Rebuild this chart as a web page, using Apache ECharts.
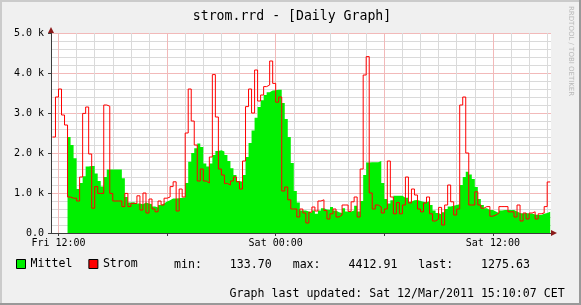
<!DOCTYPE html>
<html><head><meta charset="utf-8">
<script src="https://cdn.jsdelivr.net/npm/echarts@6/dist/echarts.min.js"></script>
<style>html,body{margin:0;padding:0;background:#f0f0f0}#c{width:581px;height:305px}</style>
</head><body><div id="c"></div>
<script>
// Samples every 10 minutes starting Fri 11:40 (hours since Fri 00:00)
const START_HOUR = 11 + 40 / 60;
const STEP_HOURS = 10 / 60;

const strom = [
2400,3400,3600,2950,2700,900,870,870,800,1400,
2990,3150,1975,620,1160,990,990,3200,3170,990,
800,800,800,660,990,660,740,740,930,575,
1000,500,850,600,530,800,700,870,900,1160,
1280,550,1100,900,2500,3600,2800,2200,1300,1600,
1300,1250,1900,3960,2900,1600,1450,1240,1200,1300,
1400,1280,1100,1800,3160,3600,3000,4075,3300,3450,
3660,3700,4300,3740,3270,3400,1050,1150,830,600,
600,400,600,500,250,520,650,550,800,830,
560,350,480,600,400,450,700,700,540,780,
900,400,1600,3950,4410,1000,600,700,650,500,
600,1800,900,480,760,480,700,1400,750,1100,
950,600,530,750,900,480,300,350,640,200,
700,1200,780,450,600,3200,3400,2000,700,700,
1030,700,620,660,660,420,450,500,660,660,
660,530,530,400,700,300,500,350,500,530,
350,480,500,660,1276,1276
];

const mittel = [
null,null,null,null,null,2400,2200,1870,1100,1250,
1420,1660,1675,1675,1490,1300,1160,1400,1590,1590,
1590,1590,1590,1370,900,760,770,740,740,720,
760,740,720,660,640,700,740,790,820,860,
860,870,880,890,1250,1780,2000,2120,2240,2150,
1740,1660,1740,1950,2050,2070,2040,1950,1800,1620,
1450,1300,1280,1450,1900,2250,2560,2880,3150,3320,
3450,3520,3560,3570,3580,3580,3250,2850,2400,1750,
1050,760,560,560,540,500,560,480,560,620,
590,580,650,560,520,500,620,540,540,560,
680,540,800,1450,1760,1770,1770,1770,1800,1250,
850,740,820,930,930,930,880,880,780,820,
825,800,780,760,800,700,560,500,460,520,
600,660,680,700,720,1200,1400,1530,1460,1350,
1150,850,700,620,575,575,540,500,560,575,
575,575,575,540,500,490,500,490,490,460,
450,450,480,500,530,530
];

const xLabelHours = [12, 24, 36];
const xLabelTexts = ['Fri 12:00', 'Sat 00:00', 'Sat 12:00'];
const majorHours = [12, 18, 24, 30, 36];
const minorHours = [13,14,15,16,17,19,20,21,22,23,25,26,27,28,29,31,32,33,34,35,37,38,39];
const yTickLabels = ['0.0', '1.0 k', '2.0 k', '3.0 k', '4.0 k', '5.0 k'];
const seriesNames = ['Mittel', 'Strom'];
const statMin = '133.70', statMax = '4412.91', statLast = '1275.63';
const titleText = 'strom.rrd - [Daily Graph]';
const updatedText = 'Graph last updated: Sat 12/Mar/2011 15:10:07 CET';

const MONO = "'DejaVu Sans Mono', monospace";
const X_MIN = 11.586, X_MAX = 39.21;

const stromData = strom.map((v, i) => [START_HOUR + i * STEP_HOURS, v]);
const mittelData = mittel.map((v, i) => [START_HOUR + i * STEP_HOURS, v == null ? '-' : v]);

const chart = echarts.init(document.getElementById('c'), null, {renderer: 'canvas'});
chart.setOption({
  animation: false,
  backgroundColor: '#f0f0f0',
  grid: {left: 51, right: 30, top: 33, bottom: 72, show: true, backgroundColor: '#ffffff', borderWidth: 0, containLabel: false},
  legend: {
    data: seriesNames, left: 16, top: 258, padding: 0, itemGap: 16, itemWidth: 9, itemHeight: 9,
    icon: 'rect', itemStyle: {borderColor: '#000', borderWidth: 1},
    textStyle: {fontFamily: MONO, fontSize: 11.6, color: '#000', padding: [0,0,0,0]}
  },
  xAxis: [{
    type: 'value', min: X_MIN, max: X_MAX,
    axisLine: {show: true, lineStyle: {color: '#3c3c3c', width: 1}},
    axisTick: {show: false, customValues: minorHours},
    axisLabel: {customValues: xLabelHours, fontFamily: MONO, fontSize: 10, color: '#000', margin: 5,
      formatter: v => xLabelTexts[xLabelHours.indexOf(Math.round(v))] || ''},
    splitLine: {show: true, lineStyle: {color: '#dadada', width: 1}}
  }, {
    type: 'value', min: X_MIN, max: X_MAX, position: 'bottom',
    axisLine: {show: false},
    axisTick: {show: true, customValues: majorHours, length: 3, lineStyle: {color: '#3c3c3c'}},
    axisLabel: {show: false},
    splitLine: {show: true, lineStyle: {color: '#f2b9b9', width: 1}}
  }],
  yAxis: {
    type: 'value', min: 0, max: 5000, interval: 1000,
    axisLine: {show: true, lineStyle: {color: '#3c3c3c', width: 1}},
    axisTick: {show: true, length: 3, lineStyle: {color: '#3c3c3c'}},
    minorTick: {show: false, splitNumber: 5},
    minorSplitLine: {show: true, lineStyle: {color: '#dadada', width: 1}},
    splitLine: {show: true, lineStyle: {color: '#f2b9b9', width: 1}},
    axisLabel: {fontFamily: MONO, fontSize: 10, color: '#000', margin: 7,
      formatter: v => yTickLabels[Math.round(v / 1000)]}
  },
  series: [{
    name: seriesNames[0], type: 'line', step: 'end', data: mittelData, xAxisIndex: 0,
    showSymbol: false, symbol: 'none', itemStyle: {color: '#00f000'},
    lineStyle: {width: 0, color: '#00f000'}, areaStyle: {color: '#00f000', opacity: 1}, z: 3
  }, {
    name: seriesNames[1], type: 'line', step: 'end', data: stromData, xAxisIndex: 0,
    showSymbol: false, symbol: 'none', itemStyle: {color: '#ff0000'},
    lineStyle: {width: 1, color: '#ff0000'}, z: 4
  }],
  graphic: [
    {type: 'rect', shape: {x: 0, y: 0, width: 581, height: 2}, style: {fill: '#cbcbcb'}, silent: true},
    {type: 'rect', shape: {x: 0, y: 0, width: 2, height: 305}, style: {fill: '#cbcbcb'}, silent: true},
    {type: 'rect', shape: {x: 0, y: 303, width: 581, height: 2}, style: {fill: '#999999'}, silent: true},
    {type: 'rect', shape: {x: 579, y: 0, width: 2, height: 305}, style: {fill: '#999999'}, silent: true},
    {type: 'text', x: 292, y: 17, style: {text: titleText, font: "13.2px 'DejaVu Sans Mono'", fill: '#000', textAlign: 'center', textVerticalAlign: 'middle'}},
    {type: 'text', x: 174, y: 264.5, style: {text: 'min:    ' + statMin + '   max:    ' + statMax + '   last:    ' + statLast, font: "11.6px 'DejaVu Sans Mono'", fill: '#000', textAlign: 'left', textVerticalAlign: 'middle'}},
    {type: 'text', x: 229.6, y: 293.5, style: {text: updatedText, font: "11.6px 'DejaVu Sans Mono'", fill: '#000', textAlign: 'left', textVerticalAlign: 'middle'}},
    {type: 'text', x: 571, y: 6, rotation: -Math.PI / 2, style: {text: 'RRDTOOL / TOBI OETIKER', font: "7px 'DejaVu Sans'", fill: '#b8b8b8', textAlign: 'left', textVerticalAlign: 'middle'}},
    {type: 'polygon', shape: {points: [[551, 230], [557, 233], [551, 236]]}, style: {fill: '#8b1a1a'}, z: 10},
    {type: 'polygon', shape: {points: [[48, 33], [51, 27], [54, 33]]}, style: {fill: '#8b1a1a'}, z: 10}
  ]
});
</script></body></html>
